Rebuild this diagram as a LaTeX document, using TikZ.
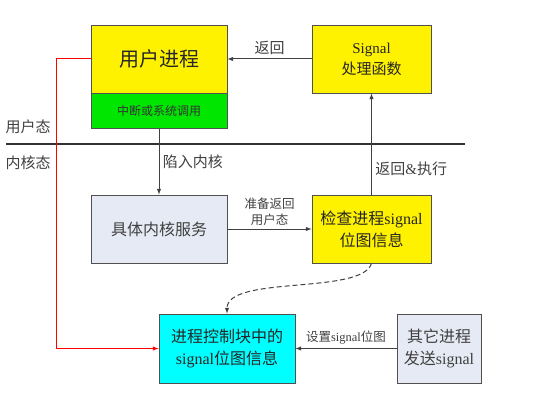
\documentclass[tikz,border=0pt]{standalone}
\usepackage{fontspec}
\setmainfont{Liberation Serif}
\newfontfamily\cjk{Noto Sans CJK SC}
\newcommand{\latn}[1]{{\rmfamily #1}}
\definecolor{boxline}{HTML}{505050}
\definecolor{kernelgray}{HTML}{E6EAF4}
\definecolor{sysgreen}{HTML}{00E600}
\definecolor{pcbcyan}{HTML}{00FFFF}
\tikzstyle{yellow box}=[
    draw = boxline,
    thick,
    fill = yellow,
    minimum height = 68pt,
    align = center,
    text = black!85
]
\tikzstyle{gray box}=[
    draw = boxline,
    thick,
    fill = kernelgray,
    minimum height = 68pt,
    align = center,
    text = black!75
]

\begin{document}
\begin{tikzpicture}[x=1pt, y=1pt, thick,
    arrow/.style = {draw=black!75, line width=1pt, -latex},
    note/.style = {text=black!75, font=\cjk\fontsize{15}{20}\selectfont},
    small note/.style = {text=black!75, align=center, font=\cjk\fontsize{12.5}{16}\selectfont}]
        \useasboundingbox (0,0) rectangle (533,405);

        \node[yellow box, minimum width=136pt, font=\cjk\fontsize{20}{24}\selectfont] (user) at (159,346) {用户进程};
        \node[draw=boxline, fill=sysgreen, minimum width=136pt, minimum height=35pt, anchor=north, text=black!80, font=\cjk\fontsize{12}{16}\selectfont] (syscall) at (user.south) {中断或系统调用};
        \node[yellow box, minimum width=119pt, font=\cjk\fontsize{15}{21}\selectfont] (signal) at (371.5,346) {\latn{Signal}\\处理函数};
        \node[gray box, minimum width=136pt, font=\cjk\fontsize{16}{22}\selectfont] (kernel) at (159,176) {具体内核服务};
        \node[yellow box, minimum width=119pt, font=\cjk\fontsize{16}{22}\selectfont] (check) at (371.5,176) {检查进程\latn{signal}\\位图信息};
        \node[draw=boxline, thick, fill=pcbcyan, minimum width=136pt, minimum height=69pt, align=center, text=black!85, font=\cjk\fontsize{16}{22}\selectfont] (pcb) at (227,56.5) {进程控制块中的\\\latn{signal}位图信息};
        \node[gray box, minimum width=84pt, minimum height=69pt, font=\cjk\fontsize{16}{22}\selectfont] (other) at (439,56.5) {其它进程\\发送\latn{signal}};

        % user / kernel split
        \coordinate (split left) at (6,261);
        \coordinate (split right) at (465,261);
        \draw[line width=1.3pt, black!80] (split left) -- (split right);
        \node[note] (user mode) at (28,278) {用户态};
        \node[note] (kernel mode) at (28,242) {内核态};

        \draw[arrow] (signal.west) -- (user.east) node [midway, above] [note] {返回};
        \draw[arrow] (syscall.south) -- (kernel.north) node [midway, right] [note] {陷入内核};
        \draw[arrow] (kernel.east) -- (check.west) node [midway, above] [small note] {准备返回\\用户态};
        \draw[arrow] (check.north) -- (signal.south) node [pos=0.25, right] [note] {返回\latn{\&}执行};
        \draw[arrow] (other.west) -- (pcb.east) node [midway, above] [small note] {设置\latn{signal}位图};
        \draw[arrow, dash pattern=on 5pt off 3pt] (check.south) .. controls (362,110) and (227,130) .. (pcb.north);
        \draw[red, line width=1pt, -latex] (user.west) -- ++(-34,0) |- (pcb.west);

    \end{tikzpicture}
\end{document}
